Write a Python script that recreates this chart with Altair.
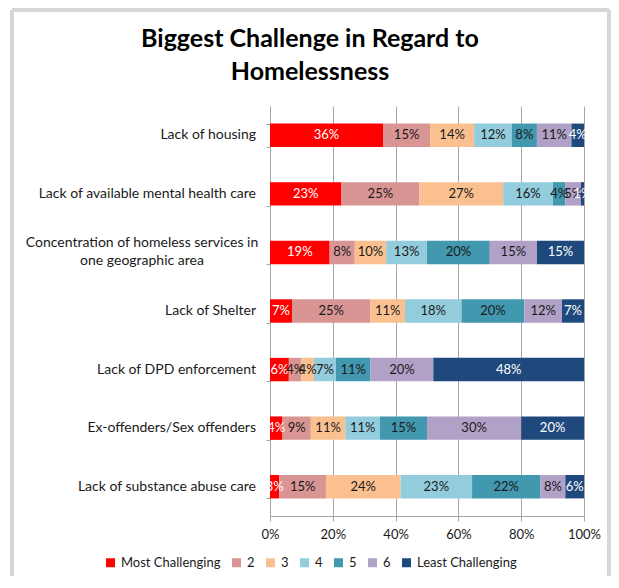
import altair as alt
import pandas as pd

categories = [
    "Lack of housing",
    "Lack of available mental health care",
    "Concentration of homeless services in\none geographic area",
    "Lack of Shelter",
    "Lack of DPD enforcement",
    "Ex-offenders/Sex offenders",
    "Lack of substance abuse care",
]
levels = ["Most Challenging", "2", "3", "4", "5", "6", "Least Challenging"]
values = [
    [36, 15, 14, 12, 8, 11, 4],
    [23, 25, 27, 16, 4, 5, 1],
    [19, 8, 10, 13, 20, 15, 15],
    [7, 25, 11, 18, 20, 12, 7],
    [6, 4, 4, 7, 11, 20, 48],
    [4, 9, 11, 11, 15, 30, 20],
    [3, 15, 24, 23, 22, 8, 6],
]
colors = ["#ff0000", "#d99594", "#fac090", "#93cddd", "#4198af", "#b2a1c7", "#1f497d"]
text_colors = ["#ffffff", "#1a1a1a", "#1a1a1a", "#1a1a1a", "#1a1a1a", "#1a1a1a", "#ffffff"]
title_lines = ["Biggest Challenge in Regard to", "Homelessness"]
x_ticks = [0, 0.2, 0.4, 0.6, 0.8, 1.0]

rows = []
for ci, cat in enumerate(categories):
    for li, lev in enumerate(levels):
        v = values[ci][li]
        rows.append({"cat": cat, "level": lev, "rank": li, "value": v,
                     "label": f"{v}%", "tc": text_colors[li]})
df = pd.DataFrame(rows)
cat_df = pd.DataFrame({"cat": categories,
                       "multi": ["\n" in c for c in categories]})

FONT = "Lato"
GRID = "#a6a6a6"
INK = "#1a1a1a"

yscale = alt.Scale(paddingInner=0.6, paddingOuter=0.3)

base = alt.Chart(df).transform_stack(
    stack="value", groupby=["cat"], as_=["x0", "x1"],
    sort=[alt.SortField("rank", order="ascending")], offset="normalize",
).transform_calculate(xm="(datum.x0 + datum.x1) / 2")

bars = base.mark_bar().encode(
    y=alt.Y("cat:N", sort=categories, scale=yscale,
            axis=alt.Axis(title=None, grid=False, labels=False, ticks=True,
                          tickBand="extent", tickSize=4, tickColor=GRID,
                          domainColor=GRID)),
    x=alt.X("x0:Q", scale=alt.Scale(domain=[0, 1], nice=False),
            axis=alt.Axis(title=None, format=".0%", values=x_ticks,
                          grid=True, gridColor=GRID, domainColor=GRID,
                          tickColor=GRID, tickSize=5, labelFlush=False,
                          labelFont=FONT, labelFontSize=13, labelColor=INK,
                          labelPadding=7)),
    x2="x1:Q",
    color=alt.Color("level:N", scale=alt.Scale(domain=levels, range=colors),
                    legend=alt.Legend(orient="none", legendX=-166, legendY=450,
                                      direction="horizontal", title=None,
                                      symbolType="square", symbolSize=81,
                                      symbolStrokeWidth=0, labelFont=FONT,
                                      labelFontSize=13, labelColor=INK,
                                      columnPadding=9, labelOffset=4)),
)

texts = base.mark_text(font=FONT, fontSize=13).encode(
    y=alt.Y("cat:N", sort=categories),
    x=alt.X("xm:Q"),
    text="label:N",
    color=alt.Color("tc:N", scale=None),
)

cats = alt.Chart(cat_df)
ylab_single = cats.transform_filter("!datum.multi").mark_text(
    font=FONT, fontSize=14, color=INK, align="right", baseline="middle",
).encode(y=alt.Y("cat:N", sort=categories), x=alt.value(-14), text="cat:N")
ylab_multi = cats.transform_filter("datum.multi").mark_text(
    font=FONT, fontSize=14, color=INK, align="center", baseline="middle",
    lineBreak="\n", lineHeight=18, dy=-9,
).encode(y=alt.Y("cat:N", sort=categories), x=alt.value(-128), text="cat:N")

one = pd.DataFrame({"t": ["\n".join(title_lines)]})
title = alt.Chart(one).mark_text(
    font=FONT, fontSize=25, fontWeight="bold", color="#000000",
    align="center", baseline="middle", lineBreak="\n", lineHeight=33,
).encode(text="t:N", x=alt.value(40), y=alt.value(-67))

frame_color = "#d6d6d6"
left = alt.Chart(one).mark_rule(color=frame_color, strokeWidth=4).encode(
    x=alt.value(-258), y=alt.value(-96), y2=alt.value(470))
top = alt.Chart(one).mark_rule(color=frame_color, strokeWidth=4).encode(
    x=alt.value(-258), x2=alt.value(339), y=alt.value(-96))
right = alt.Chart(one).mark_rule(color=frame_color, strokeWidth=4).encode(
    x=alt.value(339), y=alt.value(-96), y2=alt.value(470))

chart = alt.layer(bars, texts, ylab_single, ylab_multi, title, left, top, right).properties(
    width=314, height=410,
    padding={"left": 2, "top": 0, "right": 0, "bottom": 0},
    background="white",
).configure_view(stroke=None)

chart.save("out.html", embed_options={"renderer": "svg", "actions": False})
